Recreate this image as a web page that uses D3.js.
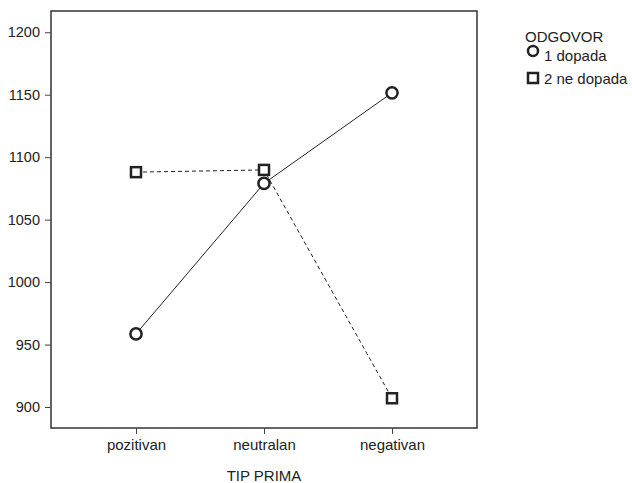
<!DOCTYPE html>
<html>
<head>
<meta charset="utf-8">
<script src="https://cdn.jsdelivr.net/npm/d3@7"></script>
<style>
  html, body { margin: 0; padding: 0; background: #fff; }
  svg { display: block; }
  text { font-family: "Liberation Sans", Arial, sans-serif; fill: #222; }
</style>
</head>
<body>
<svg id="chart" width="632" height="483"></svg>
<script>
const categories = ["pozitivan", "neutralan", "negativan"];
const seriesNames = ["1 dopada", "2 ne dopada"];
const dopada = [958.5, 1079, 1151.5];
const neDopada = [1088, 1089.8, 907];
const yTicks = [900, 950, 1000, 1050, 1100, 1150, 1200];
const legendTitle = "ODGOVOR";
const xTitle = "TIP PRIMA";

const svg = d3.select("#chart");
const pL = 51, pR = 477, pT = 11, pB = 428;
const ink = "#222";

const x = d3.scalePoint().domain(categories).range([pL, pR]).padding(0.664);
const y = d3.scaleLinear().domain([883.2, 1217]).range([pB, pT]);

// frame
svg.append("rect")
  .attr("x", pL).attr("y", pT)
  .attr("width", pR - pL).attr("height", pB - pT)
  .attr("fill", "none").attr("stroke", "#333").attr("stroke-width", 1.5);

// y axis
const yAxis = svg.append("g")
  .attr("transform", `translate(${pL},0)`)
  .call(d3.axisLeft(y).tickValues(yTicks).tickSize(6).tickPadding(5).tickFormat(d3.format("d")));
yAxis.select(".domain").remove();
yAxis.selectAll("line").attr("stroke", "#444").attr("stroke-width", 1);
yAxis.selectAll("text").attr("font-size", 14.5).attr("fill", ink)
  .attr("font-family", "Liberation Sans, Arial, sans-serif");

// x axis
const xAxis = svg.append("g")
  .attr("transform", `translate(0,${pB})`)
  .call(d3.axisBottom(x).tickSize(6).tickPadding(5));
xAxis.select(".domain").remove();
xAxis.selectAll("line").attr("stroke", "#444").attr("stroke-width", 1);
xAxis.selectAll("text").attr("font-size", 15).attr("fill", ink)
  .attr("font-family", "Liberation Sans, Arial, sans-serif");

svg.append("text")
  .attr("x", x("neutralan")).attr("y", 481)
  .attr("text-anchor", "middle").attr("font-size", 15)
  .text(xTitle);

const line = d3.line().x((d, i) => x(categories[i])).y(d => y(d));

svg.append("path").datum(dopada)
  .attr("d", line).attr("fill", "none").attr("stroke", ink).attr("stroke-width", 1);
svg.append("path").datum(neDopada)
  .attr("d", line).attr("fill", "none").attr("stroke", ink).attr("stroke-width", 1)
  .attr("stroke-dasharray", "4,3");

const sq = 10;
svg.selectAll("rect.sq").data(neDopada).enter().append("rect")
  .attr("class", "sq")
  .attr("x", (d, i) => x(categories[i]) - sq / 2)
  .attr("y", d => y(d) - sq / 2)
  .attr("width", sq).attr("height", sq)
  .attr("fill", "#fff").attr("stroke", ink).attr("stroke-width", 2.5);

svg.selectAll("circle.ci").data(dopada).enter().append("circle")
  .attr("class", "ci")
  .attr("cx", (d, i) => x(categories[i]))
  .attr("cy", d => y(d))
  .attr("r", 5.6)
  .attr("fill", "#fff").attr("stroke", ink).attr("stroke-width", 2.5);

// legend
const lg = svg.append("g");
lg.append("text").attr("x", 525).attr("y", 42).attr("font-size", 15).text(legendTitle);
lg.append("circle").attr("cx", 533).attr("cy", 51).attr("r", 5)
  .attr("fill", "#fff").attr("stroke", ink).attr("stroke-width", 2.5);
lg.append("text").attr("x", 544).attr("y", 61).attr("font-size", 15).text(seriesNames[0]);
lg.append("rect").attr("x", 528).attr("y", 73).attr("width", 10).attr("height", 10)
  .attr("fill", "#fff").attr("stroke", ink).attr("stroke-width", 2.5);
lg.append("text").attr("x", 544).attr("y", 84).attr("font-size", 15).text(seriesNames[1]);
</script>
</body>
</html>
